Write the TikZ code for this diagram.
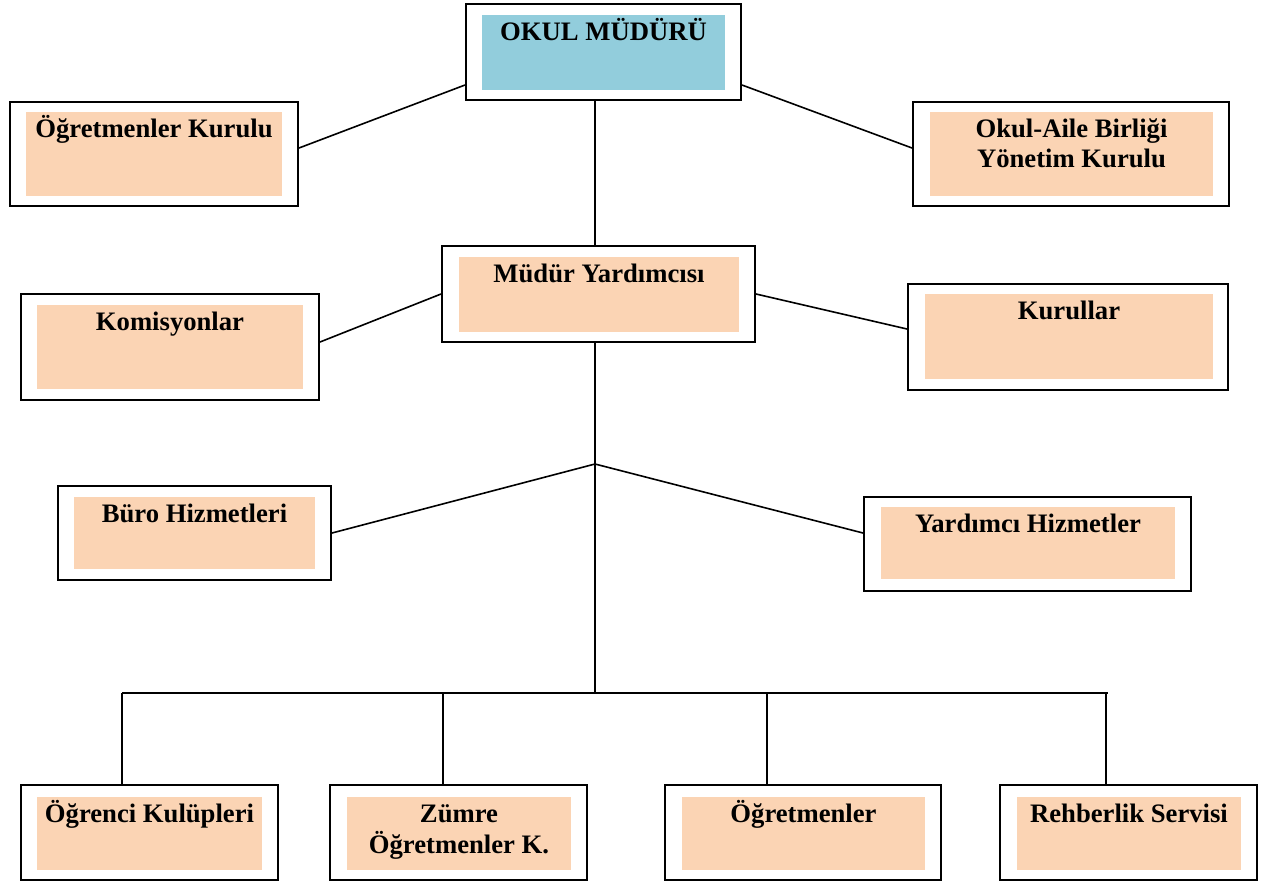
\documentclass[tikz,border=0pt]{standalone}
\usepackage{fontspec}
\setmainfont{Liberation Serif}
\usetikzlibrary{fit,calc}
\definecolor{peach}{HTML}{FBD4B4}
\definecolor{aqua}{HTML}{92CDDC}
\tikzset{
  frame/.style={draw, line width=1.5pt, inner sep=0pt},
  panel/.style={inner sep=0pt, fill=peach},
  title/.style={anchor=base, inner sep=0pt, yshift=-19.5pt,
    font=\fontsize{20}{22.5}\selectfont\bfseries},
  link/.style={line width=1.2pt}
}

\begin{document}
\begin{tikzpicture}[x=0.75pt, y=-0.75pt]
    \useasboundingbox (0,0) rectangle (1261,883);
    % top
    \node[frame, fit={(466,4) (741,100)}] (okulB) {};
    \node[panel, fill=aqua, fit={(482,15) (725,90)}] (okul) {};
    \node[title] (okulT) at (okul.north) {OKUL MÜDÜRÜ};

    \node[frame, fit={(10,102) (298,206)}] (kurulB) {};
    \node[panel, fit={(26,112) (282,196)}] (kurul) {};
    \node[title] (kurulT) at (kurul.north) {Öğretmenler Kurulu};

    \node[frame, fit={(913,102) (1229,206)}] (aileB) {};
    \node[panel, fit={(930,112) (1213,196)}] (aile) {};
    \node[title] (aileT) at (aile.north) {\begin{tabular}[t]{c}
        Okul-Aile Birliği \\
        Yönetim Kurulu
      \end{tabular}};

    % second row
    \node[frame, fit={(442,246) (755,342)}] (yardB) {};
    \node[panel, fit={(459,257) (739,332)}] (yard) {};
    \node[title] (yardT) at (yard.north) {Müdür Yardımcısı};

    \node[frame, fit={(21,294) (319,400)}] (komB) {};
    \node[panel, fit={(37,305) (303,389)}] (kom) {};
    \node[title] (komT) at (kom.north) {Komisyonlar};

    \node[frame, fit={(908,284) (1228,390)}] (kurB) {};
    \node[panel, fit={(925,294) (1213,379)}] (kur) {};
    \node[title] (kurT) at (kur.north) {Kurullar};

    % services
    \node[frame, fit={(58,486) (331,580)}] (buroB) {};
    \node[panel, fit={(74,497) (315,569)}] (buro) {};
    \node[title] (buroT) at (buro.north) {Büro Hizmetleri};

    \node[frame, fit={(864,497) (1191,591)}] (yhizB) {};
    \node[panel, fit={(881,507) (1175,579)}] (yhiz) {};
    \node[title] (yhizT) at (yhiz.north) {Yardımcı Hizmetler};

    % bottom row
    \node[frame, fit={(21,785) (278,880)}] (kulupB) {};
    \node[panel, fit={(37,797) (262,870)}] (kulup) {};
    \node[title] (kulupT) at (kulup.north) {Öğrenci Kulüpleri};

    \node[frame, fit={(330,785) (587,880)}] (zumreB) {};
    \node[panel, fit={(347,797) (571,870)}] (zumre) {};
    \node[title] (zumreT) at (zumre.north) {\begin{tabular}[t]{c}
        Zümre \\
        Öğretmenler K.
      \end{tabular}};

    \node[frame, fit={(665,785) (941,880)}] (ogrtB) {};
    \node[panel, fit={(682,797) (925,870)}] (ogrt) {};
    \node[title] (ogrtT) at (ogrt.north) {Öğretmenler};

    \node[frame, fit={(1000,785) (1257,880)}] (rehberB) {};
    \node[panel, fit={(1017,797) (1241,870)}] (rehber) {};
    \node[title] (rehberT) at (rehber.north) {Rehberlik Servisi};

    % connectors
    \coordinate (spine) at (595,0);
    \coordinate (fork) at (595,464);
    \coordinate (bus) at (595,693);
    \draw[link] ([yshift=12pt]okulB.south west) -- ([yshift=4.5pt]kurulB.east);
    \draw[link] ([yshift=12pt]okulB.south east) -- ([yshift=4.5pt]aileB.west);
    \draw[link] (okulB.south -| spine) -- (yardB.north -| spine);
    \draw[link] (yardB.west) -- ([yshift=3.75pt]komB.east);
    \draw[link] (yardB.east) -- ([yshift=6pt]kurB.west);
    \draw[link] (yardB.south -| spine) -- (bus);
    \draw[link] (fork) -- (buroB.east);
    \draw[link] (fork) -- ([yshift=8.25pt]yhizB.west);
    \draw[link] (bus -| 122,0) -- (bus -| 1108,0);
    \foreach \xx/\nm in {122/kulup, 443/zumre, 767/ogrt, 1106/rehber}
      \draw[link] (bus -| \xx,0) -- (\nm B.north -| \xx,0);
\end{tikzpicture}
\end{document}
